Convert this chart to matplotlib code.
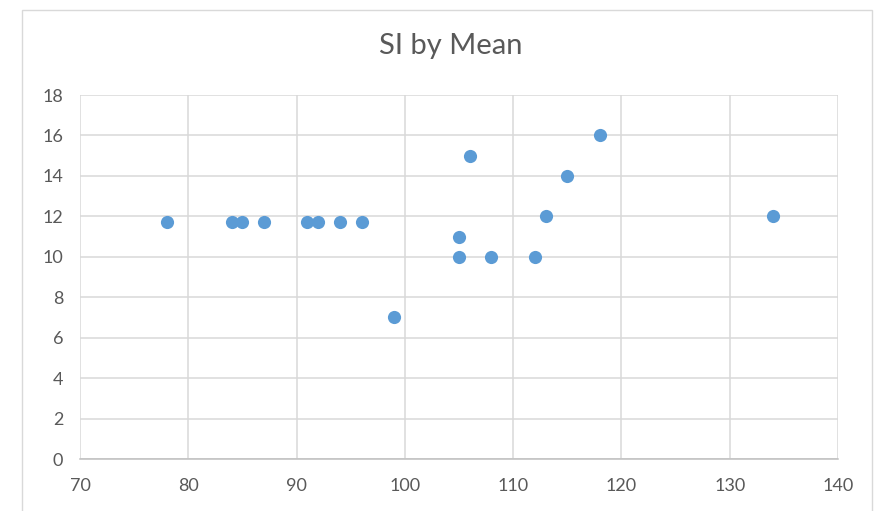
import matplotlib.pyplot as plt
from matplotlib.patches import Rectangle

# mean values and matching SI values
mean_vals = [78, 84, 85, 87, 91, 92, 94, 96, 99, 105, 105, 106, 108, 112, 113, 115, 118, 134]
si_vals = [11.7, 11.7, 11.7, 11.7, 11.7, 11.7, 11.7, 11.7, 7, 11, 10, 15, 10, 10, 12, 14, 16, 12]

x_ticks = [70, 80, 90, 100, 110, 120, 130, 140]
y_ticks = [0, 2, 4, 6, 8, 10, 12, 14, 16, 18]

plt.rcParams["font.family"] = ["Lato", "DejaVu Sans"]

fig = plt.figure(figsize=(8.89, 5.11), dpi=100)
ax = fig.add_axes([80 / 889, 1 - 459 / 511, 758 / 889, 364 / 511])

# chart border
fig.patches.append(Rectangle((22 / 889, -0.05), 850 / 889, 1.05 - 10 / 511,
                             transform=fig.transFigure, fill=False,
                             edgecolor="#D9D9D9", linewidth=1.0))

ax.scatter(mean_vals, si_vals, s=90, color="#5B9BD5", zorder=3, linewidths=0)

ax.set_xlim(70, 140)
ax.set_ylim(0, 18)
ax.set_xticks(x_ticks)
ax.set_yticks(y_ticks)
ax.grid(True, color="#D9D9D9", linewidth=1.1)
ax.set_axisbelow(True)
for side in ["top", "right", "left"]:
    ax.spines[side].set_visible(False)
ax.spines["bottom"].set_color("#BFBFBF")
ax.spines["bottom"].set_linewidth(1.1)
ax.tick_params(length=0, labelsize=13, labelcolor="#595959")
ax.tick_params(axis="x", pad=14)
ax.tick_params(axis="y", pad=12)

fig.text(451 / 889, 1 - 46 / 511, "SI by Mean", ha="center", va="center",
         fontsize=21, color="#595959")

fig.savefig("out.png", dpi=100)
